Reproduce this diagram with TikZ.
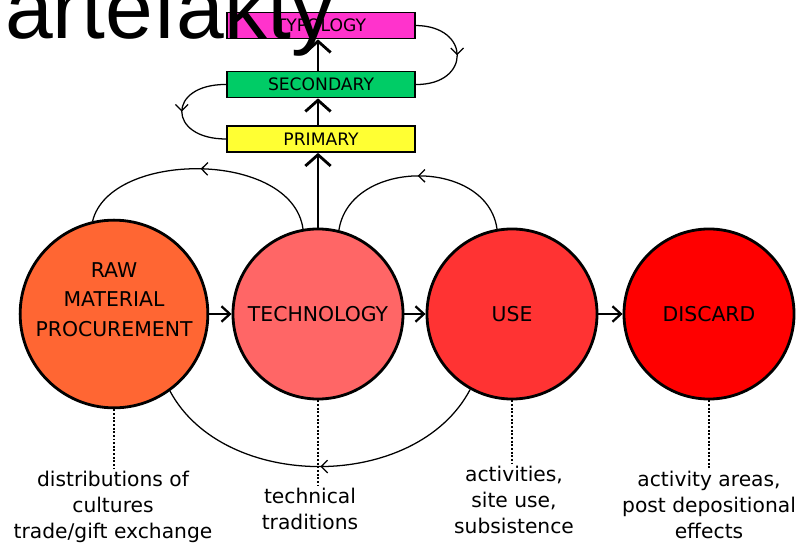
\documentclass[tikz,border=0pt]{standalone}
\usepackage{fontspec}
\setmainfont{DejaVu Sans}
\newfontfamily\headfont{Liberation Sans}
\usetikzlibrary{arrows.meta,decorations.markings}
\definecolor{rawcol}{HTML}{FF6633}
\definecolor{techcol}{HTML}{FF6666}
\definecolor{usecol}{HTML}{FF3333}
\definecolor{discol}{HTML}{FF0000}
\definecolor{typcol}{HTML}{FF33CC}
\definecolor{seccol}{HTML}{00CC66}
\definecolor{primcol}{HTML}{FFFF33}

\begin{document}
\begin{tikzpicture}[x=0.025cm,y=-0.025cm,
    stage/.style={circle,draw,line width=2pt,minimum size=4.25cm,inner sep=0pt,
      align=center,font=\fontsize{14.5}{21}\selectfont},
    tier/.style={draw,line width=1.2pt,minimum width=4.7cm,minimum height=0.65cm,
      inner sep=0pt,font=\fontsize{12.2}{14}\selectfont},
    note/.style={align=center,inner sep=2pt,anchor=north,font=\fontsize{14.4}{18.5}\selectfont},
    flow/.style={line width=1.8pt,-{Straight Barb[length=6pt,width=11pt,line width=1.6pt]}},
    rise/.style={line width=2pt,-{Straight Barb[length=8pt,width=18pt,line width=2pt]}},
    back/.style={line width=0.9pt,postaction=decorate,decoration={markings,
      mark=at position 0.5 with {\arrow{Straight Barb[length=4.5pt,width=9pt,line width=0.9pt]}}}},
    tie/.style={dash pattern=on 1.4pt off 1.2pt,line width=0.9pt}]
  \useasboundingbox (0,0) rectangle (800,544);
  \fill[white] (0,0) rectangle (800,544);

  % life history stages
  \node[stage,fill=rawcol] (raw) at (114,314) {RAW\\MATERIAL\\PROCUREMENT\\~};
  \node[stage,fill=techcol] (tech) at (318,314) {TECHNOLOGY};
  \node[stage,fill=usecol] (use) at (512,314) {USE};
  \node[stage,fill=discol] (discard) at (709,314) {DISCARD};

  % analysis levels
  \node[tier,fill=primcol] (primary) at (321,139) {PRIMARY};
  \node[tier,fill=seccol] (secondary) at (321,84.5) {SECONDARY};
  \node[tier,fill=typcol] (typology) at (321,25.5) {TYPOLOGY};

  \draw[flow] (raw) -- (tech);
  \draw[flow] (tech) -- (use);
  \draw[flow] (use) -- (discard);
  \draw[rise] (tech.north) -- (tech.north |- primary.south);
  \draw[rise] (tech.north |- primary.north) -- (tech.north |- secondary.south);
  \draw[rise] (tech.north |- secondary.north) -- (tech.north |- typology.south);

  % feedback loops
  \draw[back] (tech.100) .. controls (292,150) and (110,150) .. (raw.103);
  \draw[back] (use.100) .. controls (487,158) and (350,158) .. (tech.76);
  \draw[back] (use.241) .. controls (416,492) and (224,492) .. (raw.306);
  \draw[back] (typology.east) .. controls (471,26) and (471,85) .. (secondary.east);
  \draw[back] (secondary.west) .. controls (167,84) and (167,139) .. (primary.west);

  % what each stage leaves behind
  \node[note] (rawnote) at (113,468) {distributions of\\cultures\\trade/gift exchange};
  \node[note] (technote) at (310,485) {technical\\traditions};
  \node[note] (usenote) at (514,463) {activities,\\site use,\\subsistence};
  \node[note] (discardnote) at (709,468) {activity areas,\\post depositional\\effects};
  \draw[tie] (raw.south) -- (raw.south |- rawnote.north);
  \draw[tie] (tech.south) -- (tech.south |- technote.north);
  \draw[tie] (use.south) -- (use.south |- usenote.north);
  \draw[tie] (discard.south) -- (discard.south |- discardnote.north);

  \node[anchor=base west,inner sep=0pt,font=\headfont\fontsize{61}{61}\selectfont]
    (title) at (5,39) {artefakty};
\end{tikzpicture}
\end{document}
